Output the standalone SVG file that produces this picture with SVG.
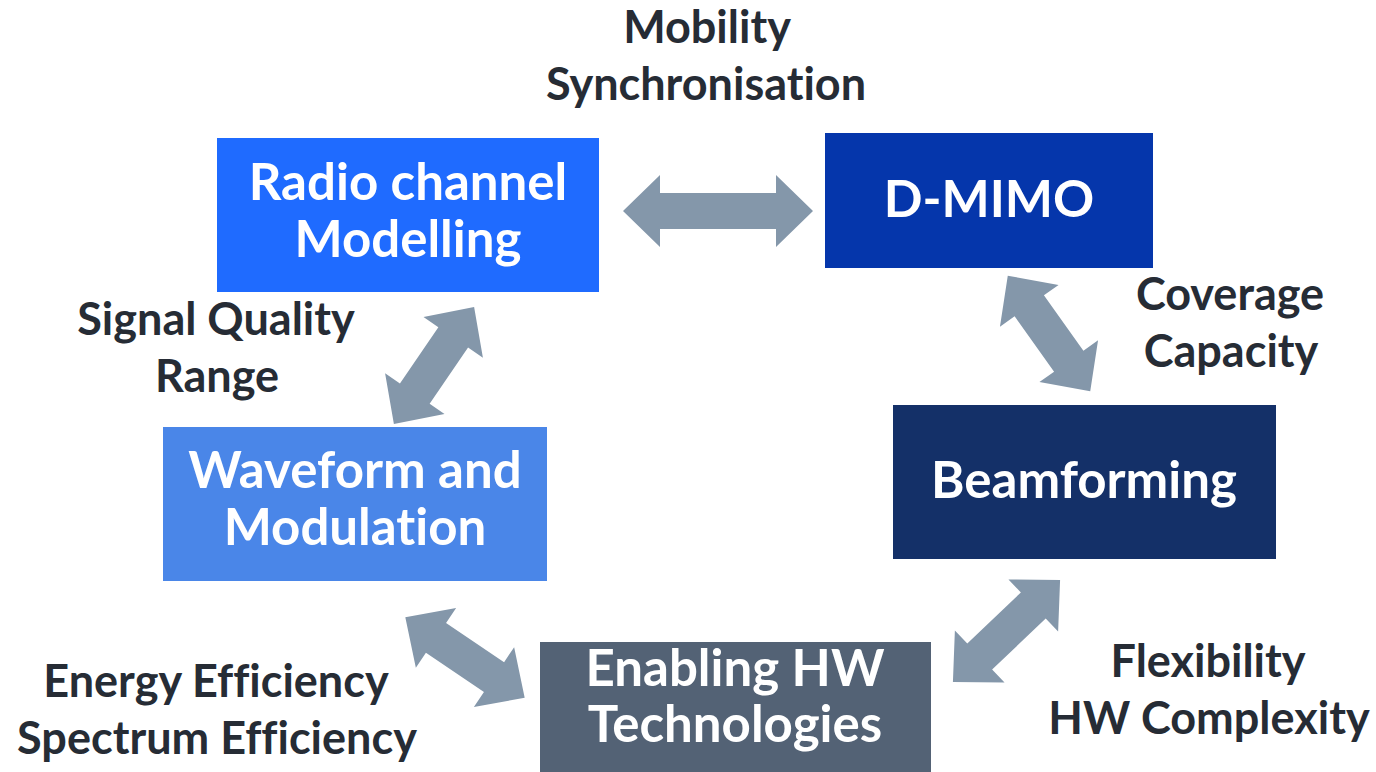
<svg xmlns="http://www.w3.org/2000/svg" width="1376" height="772" viewBox="0 0 1376 772">
<style>
.box-t{font-family:Lato,"Open Sans","Liberation Sans",sans-serif;font-weight:700;font-size:51px;fill:#ffffff;text-anchor:middle;font-variant-ligatures:none}
.lbl{font-family:Lato,"Open Sans","Liberation Sans",sans-serif;font-weight:700;font-size:45px;fill:#262c35;text-anchor:middle;font-variant-ligatures:none}
.arr{fill:#8497aa}
</style>
<rect x="0" y="0" width="1376" height="772" fill="#ffffff"/>
<g id="connectors">
<polygon class="arr" transform="translate(718,211)" points="-95,0 -58,-36 -58,-18 58,-18 58,-36 95,0 58,36 58,18 -58,18 -58,36"/>
<polygon class="arr" transform="translate(434,365.5) rotate(-55.6)" points="-71,0 -34,-36 -34,-18 34,-18 34,-36 71,0 34,36 34,18 -34,18 -34,36"/>
<polygon class="arr" transform="translate(1049,333.5) rotate(54.5)" points="-71,0 -34,-36 -34,-18 34,-18 34,-36 71,0 34,36 34,18 -34,18 -34,36"/>
<polygon class="arr" transform="translate(465,657.5) rotate(34)" points="-72,0 -35,-36 -35,-18 35,-18 35,-36 72,0 35,36 35,18 -35,18 -35,36"/>
<polygon class="arr" transform="translate(1006.5,631) rotate(-43.6)" points="-74,0 -37,-36 -37,-18 37,-18 37,-36 74,0 37,36 37,18 -37,18 -37,36"/>
</g>
<g id="radio">
<rect x="217" y="138" width="382" height="154" fill="#1f6bff"/>
<text class="box-t" x="408" y="200">Radio channel</text>
<text class="box-t" x="408" y="257">Modelling</text>
</g>
<g id="dmimo">
<rect x="825" y="133" width="328" height="135" fill="#0536ab"/>
<text class="box-t" x="989" y="217">D-MIMO</text>
</g>
<g id="beamforming">
<rect x="893" y="405" width="383" height="154" fill="#143068"/>
<text class="box-t" x="1084" y="498">Beamforming</text>
</g>
<g id="waveform">
<rect x="163" y="427" width="384" height="154" fill="#4a86e8"/>
<text class="box-t" x="355" y="488">Waveform and</text>
<text class="box-t" x="355" y="545">Modulation</text>
</g>
<g id="enabling">
<rect x="540" y="642" width="391" height="130" fill="#536275"/>
<text class="box-t" x="735" y="686">Enabling HW</text>
<text class="box-t" x="735" y="742">Technologies</text>
</g>
<g id="labels">
<text class="lbl" x="707" y="43">Mobility</text>
<text class="lbl" x="706" y="100">Synchronisation</text>
<text class="lbl" x="1230" y="310">Coverage</text>
<text class="lbl" x="1231" y="367">Capacity</text>
<text class="lbl" x="216" y="335">Signal Quality</text>
<text class="lbl" x="217" y="392">Range</text>
<text class="lbl" x="216" y="697">Energy Efficiency</text>
<text class="lbl" x="217" y="754">Spectrum Efficiency</text>
<text class="lbl" x="1208" y="677">Flexibility</text>
<text class="lbl" x="1209" y="734">HW Complexity</text>
</g>
</svg>
